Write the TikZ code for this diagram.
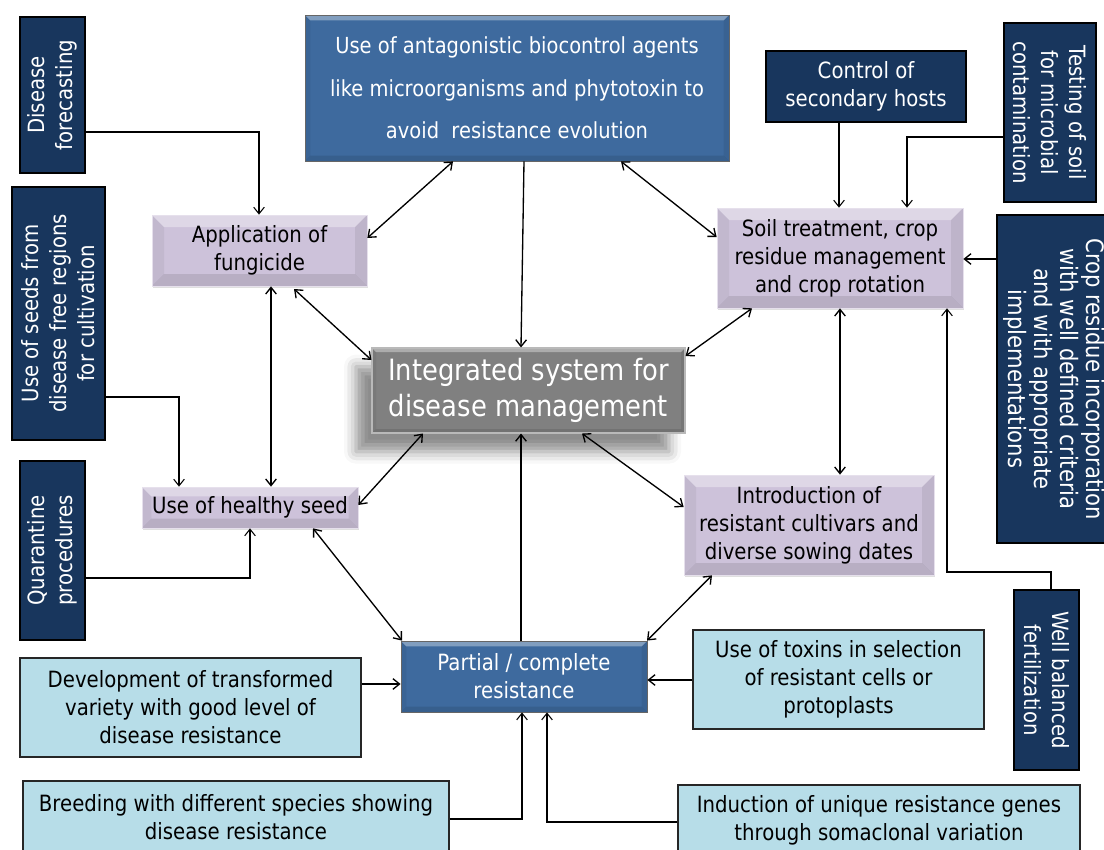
\documentclass[tikz,border=0pt]{standalone}
\usepackage{fontspec}
\setmainfont[FakeStretch=0.88]{DejaVu Sans}
\usetikzlibrary{arrows.meta,shadows,shadows.blur}
\definecolor{navy}{RGB}{24,54,93}
\definecolor{bluebox}{RGB}{62,106,158}
\definecolor{lav}{RGB}{205,194,218}
\definecolor{greybox}{RGB}{128,128,128}
\definecolor{lblue}{RGB}{183,221,232}
\newcommand\mkbox[7]{\node[#2, minimum width={(#5-#3)*0.75pt}, minimum height={(#6-#4)*0.75pt}] (#1) at ({(#3+#5)/2},{(#4+#6)/2}) {#7};}
\tikzset{
  bevel/.style={path picture={
    \path (path picture bounding box.north west) coordinate (q1)
          (path picture bounding box.north east) coordinate (q2)
          (path picture bounding box.south east) coordinate (q3)
          (path picture bounding box.south west) coordinate (q4);
    \fill[white,opacity=0.35] (q1) -- (q2) -- ([xshift=-#1,yshift=-#1]q2) -- ([xshift=#1,yshift=-#1]q1) -- cycle;
    \fill[black,opacity=0.05] (q1) -- ([xshift=#1,yshift=-#1]q1) -- ([xshift=#1,yshift=#1]q4) -- (q4) -- cycle;
    \fill[black,opacity=0.07] (q2) -- (q3) -- ([xshift=-#1,yshift=#1]q3) -- ([xshift=-#1,yshift=-#1]q2) -- cycle;
    \fill[black,opacity=0.10] (q4) -- ([xshift=#1,yshift=#1]q4) -- ([xshift=-#1,yshift=#1]q3) -- (q3) -- cycle;
  }},
  box/.style={rectangle, inner sep=0pt, align=center, font=\fontsize{16.8}{21}\selectfont},
  navyb/.style={box, fill=navy, draw=black, line width=1.1pt},
  blueb/.style={box, fill=bluebox, draw=gray!80!black, line width=0.6pt, text=white, bevel=4pt},
  lavb/.style={box, fill=lav, draw=lav!50!white, line width=0.5pt, bevel=9pt,
    drop shadow={shadow xshift=0.5pt, shadow yshift=-1.5pt, opacity=0.25}},
  greyb/.style={box, fill=greybox, draw=gray!55, line width=0.8pt, text=white, bevel=3pt,
    blur shadow={shadow xshift=-12pt, shadow yshift=-14pt, shadow blur radius=9pt, shadow opacity=45}},
  lblueb/.style={box, fill=lblue, draw=black!85, line width=0.8pt},
  vtext/.style={align=center, text=white, inner sep=0pt, font=\fontsize{16.8}{21}\selectfont},
  arr/.style={-{Straight Barb[length=5pt,width=8pt]}, line width=1pt},
  thinarr/.style={-{Straight Barb[length=5pt,width=8pt]}, line width=0.8pt},
  dbl/.style={{Straight Barb[length=5pt,width=8pt]}-{Straight Barb[length=5pt,width=8pt]}, line width=1pt},
}
\begin{document}
\begin{tikzpicture}[x=0.75pt,y=-0.75pt]
\useasboundingbox (0,0) rectangle (1104,850);
\clip (0,0) rectangle (1104,850);
% dark side boxes
\mkbox{df}{navyb}{20}{17}{85}{173}{}
\node[vtext, rotate=90] (dft) at (df) {Disease\\forecasting};
\mkbox{seeds}{navyb}{12}{187}{105}{440}{}
\node[vtext, rotate=90] (seedst) at (seeds) {Use of seeds from\\disease free regions\\for cultivation};
\mkbox{quar}{navyb}{20}{461}{85}{640}{}
\node[vtext, rotate=90] (quart) at (quar) {Quarantine\\procedures};
\mkbox{ctrl}{navyb, text=white}{766}{51}{966}{122}{Control of\\secondary hosts}
\mkbox{test}{navyb}{1004}{23}{1096}{202}{}
\node[vtext, rotate=-90] (testt) at (test) {Testing of soil\\for microbial\\contamination};
\mkbox{crop}{navyb}{997}{215}{1111}{543}{}
\node[vtext, rotate=-90, font=\fontsize{18}{19.5}\selectfont] (cropt) at (crop) {Crop residue incorporation\\with well defined criteria\\and with appropriate\\implementations};
\mkbox{well}{navyb}{1014}{590}{1079}{770}{}
\node[vtext, rotate=-90] (wellt) at (well) {Well balanced\\fertilization};
% main boxes
\mkbox{top}{blueb, font=\fontsize{16.6}{32}\selectfont}{305}{15}{729}{161}{Use of antagonistic biocontrol agents\\like microorganisms and phytotoxin to\\avoid\ \ resistance evolution}
\mkbox{fung}{lavb}{152}{215}{367}{286}{Application of\\fungicide}
\mkbox{soil}{lavb}{717}{208}{963}{308}{Soil treatment, crop\\residue management\\and crop rotation}
\mkbox{integ}{greyb, font=\fontsize{22}{27}\selectfont}{372}{348}{685}{433}{Integrated system for\\disease management}
\mkbox{healthy}{lavb, bevel=7pt}{142}{487}{358}{528}{Use of healthy seed}
\mkbox{intro}{lavb}{684}{475}{934}{575}{Introduction of\\resistant cultivars and\\diverse sowing dates}
\mkbox{partial}{blueb}{401}{641}{647}{712}{Partial / complete\\resistance}
% light blue boxes
\mkbox{dev}{lblueb}{20}{658}{361}{757}{Development of transformed\\variety with good level of\\disease resistance}
\mkbox{tox}{lblueb}{693}{630}{984}{729}{Use of toxins in selection\\of resistant cells or\\protoplasts}
\mkbox{breed}{lblueb}{23}{781}{449}{853}{Breeding with different species showing\\disease resistance}
\mkbox{ind}{lblueb}{678}{785}{1080}{855}{Induction of unique resistance genes\\through somaclonal variation}
% feeder connectors
\draw[thinarr] (df.east |- 0,132) -| (fung.north -| 259,0);
\draw[thinarr] (seeds.east |- 0,397) -| (healthy.north -| 179,0);
\draw[thinarr] (quar.east |- 0,578) -| (healthy.south -| 250,0);
\draw[thinarr] (ctrl.south -| 839,0) -- (soil.north -| 839,0);
\draw[thinarr] (test.west |- 0,137) -| (soil.north -| 907,0);
\draw[arr] (crop.west |- 0,259) -- (soil.east |- 0,259);
\draw[thinarr] (well.north -| 1051,0) |- (947,572) -- (soil.south -| 947,0);
% main connectors
\draw[dbl] (fung.east |- 0,238) -- (top.south -| 453,0);
\draw[dbl] (fung.south -| 271,0) -- (healthy.north -| 271,0);
\draw[dbl] (294,289) -- (integ.west |- 0,360);
\draw[arr] (top.south -| 524,0) -- (integ.north -| 521,0);
\draw[dbl] (top.south -| 621,0) -- (soil.west |- 0,237);
\draw[dbl] (soil.south -| 752,0) -- (integ.east |- 0,356);
\draw[dbl] (soil.south -| 840,0) -- (intro.north -| 840,0);
\draw[dbl] (integ.south -| 423,0) -- (healthy.east |- 0,505);
\draw[arr] (partial.north -| 521,0) -- (integ.south -| 521,0);
\draw[dbl] (integ.south -| 582,0) -- (intro.west |- 0,507);
\draw[dbl] (healthy.south -| 313,0) -- (partial.north -| 402,0);
\draw[dbl] (intro.south -| 712,0) -- (partial.north -| 647,0);
\draw[arr] (dev.east |- 0,684) -- (partial.west |- 0,684);
\draw[arr] (tox.west |- 0,680) -- (partial.east |- 0,680);
\draw[thinarr] (breed.east |- 0,819) -| (partial.south -| 522,0);
\draw[thinarr] (ind.west |- 0,822) -| (partial.south -| 547,0);
\end{tikzpicture}
\end{document}
